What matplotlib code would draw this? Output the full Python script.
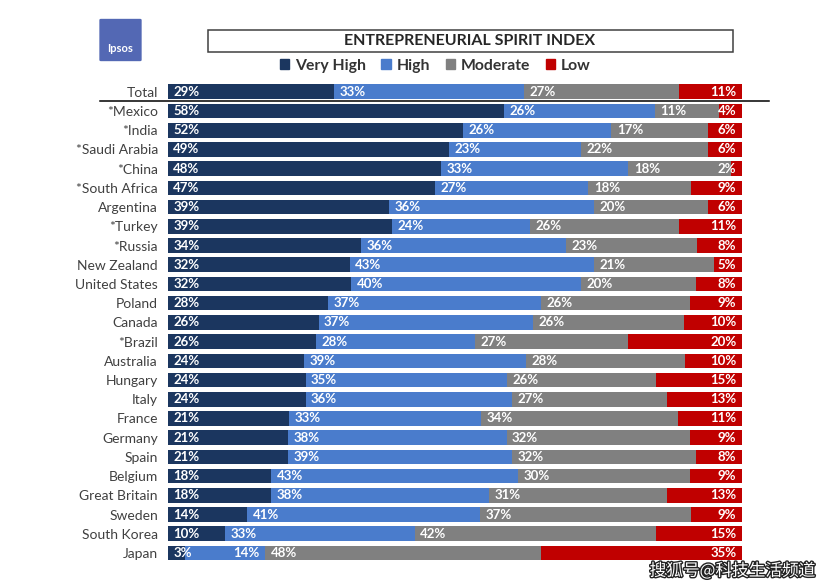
import numpy as np
import matplotlib.pyplot as plt
import matplotlib.patches as mpatches
import matplotlib.patheffects as pe
from matplotlib.patches import FancyBboxPatch, Rectangle

#######################################################
# Data
#######################################################
countries = ["Total", "*Mexico", "*India", "*Saudi Arabia", "*China", "*South Africa",
             "Argentina", "*Turkey", "*Russia", "New Zealand", "United States", "Poland",
             "Canada", "*Brazil", "Australia", "Hungary", "Italy", "France", "Germany",
             "Spain", "Belgium", "Great Britain", "Sweden", "South Korea", "Japan"]
very_high = [29, 58, 52, 49, 48, 47, 39, 39, 34, 32, 32, 28, 26, 26, 24, 24, 24, 21, 21, 21, 18, 18, 14, 10, 3]
high      = [33, 26, 26, 23, 33, 27, 36, 24, 36, 43, 40, 37, 37, 28, 39, 35, 36, 33, 38, 39, 43, 38, 41, 33, 14]
moderate  = [27, 11, 17, 22, 18, 18, 20, 26, 23, 21, 20, 26, 26, 27, 28, 26, 27, 34, 32, 32, 30, 31, 37, 42, 48]
low       = [11, 4, 6, 6, 2, 9, 6, 11, 8, 5, 8, 9, 10, 20, 10, 15, 13, 11, 9, 8, 9, 13, 9, 15, 35]

series_names = ["Very High", "High", "Moderate", "Low"]
colors = ["#1b365f", "#4a7ccc", "#808080", "#c00000"]

# labels the original nudged by hand (row, series) -> extra offset in points
label_nudge = {("Japan", 1): 31}

plt.rcParams['font.family'] = ['Lato', 'DejaVu Sans']

vals = np.array([very_high, high, moderate, low], dtype=float)
# rounded shares don't always add to 100 -> scale each row so bars end flush
shares = vals / vals.sum(axis=0) * 100

fig = plt.figure(figsize=(8.3, 5.87), dpi=100)
ax = fig.add_axes([0.202, 0.0416, 0.692, 0.8184])

y = np.arange(len(countries))
left = np.zeros(len(countries))
for i in range(4):
    ax.barh(y, shares[i], left=left, height=0.76, color=colors[i], zorder=2)
    for j in range(len(countries)):
        txt = f"{int(vals[i, j])}%"
        if i < 3:
            dx = 4 + label_nudge.get((countries[j], i), 0)
            ax.annotate(txt, (left[j], y[j]), xytext=(dx, 0), textcoords="offset points",
                        ha="left", va="center", color="white", fontsize=9.5,
                        fontweight="bold", zorder=3)
        else:
            ax.annotate(txt, (left[j] + shares[i, j], y[j]), xytext=(-4, 0),
                        textcoords="offset points", ha="right", va="center",
                        color="white", fontsize=9.5, fontweight="bold", zorder=3)
    left += shares[i]

ax.set_xlim(0, 100)
ax.set_ylim(len(countries) - 0.5, -0.5)
ax.set_yticks(y)
ax.set_yticklabels(countries, fontsize=10, color="#404040")
ax.tick_params(axis="y", length=0, pad=7)
ax.set_xticks([])
for s in ax.spines.values():
    s.set_visible(False)

# separator under Total
ax.plot([-11.8, 104.7], [0.5, 0.5], color="black", lw=1.1, clip_on=False, zorder=1)

# title box
fig.add_artist(Rectangle((208 / 830, 1 - 52 / 587), 525 / 830, 22 / 587,
                         transform=fig.transFigure, fill=False, edgecolor="#404040", lw=1.1))
fig.text(470 / 830, 1 - 41 / 587, "ENTREPRENEURIAL SPIRIT INDEX", ha="center", va="center",
         fontsize=11.5, fontweight="bold", color="#262626")

# legend
handles = [mpatches.Patch(color=c, label=n) for c, n in zip(colors, series_names)]
fig.legend(handles=handles, loc="center", bbox_to_anchor=(435 / 830, 1 - 66 / 587), ncol=4,
           frameon=False, handlelength=0.6, handleheight=0.6, handletextpad=0.35,
           columnspacing=1.0, prop={"size": 11.3, "weight": "bold"}, labelcolor="#333333")

# Ipsos logo
fig.add_artist(FancyBboxPatch((101 / 830, 1 - 60 / 587), 39 / 830, 40 / 587,
                              boxstyle="round,pad=0.002", transform=fig.transFigure,
                              facecolor="#5368b4", edgecolor="none"))
fig.text(120 / 830, 1 - 49 / 587, "Ipsos", ha="center", va="center", fontsize=8,
         fontweight="bold", color="white")

# watermark
fig.text(815 / 830, 1 - 571 / 587, "搜狐号@科技生活频道", ha="right", va="center",
         fontsize=12, color="white", family=["Noto Sans CJK SC", "DejaVu Sans"],
         path_effects=[pe.withStroke(linewidth=2, foreground="#222222")])

fig.savefig("out.png", dpi=100)
